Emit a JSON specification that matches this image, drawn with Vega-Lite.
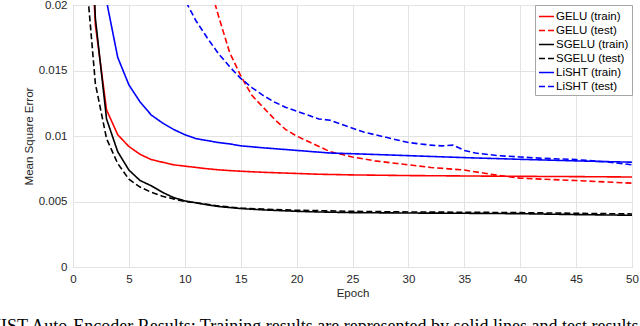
{
  "$schema": "https://vega.github.io/schema/vega-lite/v6.json",
  "autosize": {"type": "none"},
  "width": 559,
  "height": 262,
  "padding": {"left": 73, "top": 5, "right": 8, "bottom": 59},
  "background": "white",
  "config": {
    "view": {"stroke": "#a6a6a6", "strokeWidth": 1},
    "font": "Liberation Sans",
    "axis": {
      "labelFont": "Liberation Sans", "labelFontSize": 11.5, "labelColor": "#262626",
      "titleFont": "Liberation Sans", "titleFontSize": 11.5, "titleFontWeight": "normal", "titleColor": "#262626",
      "gridColor": "#e3e3e3", "gridWidth": 1, "domain": false, "ticks": false
    }
  },
  "title": {
    "text": "MNIST Auto-Encoder Results: Training results are represented by solid lines and test results by dashed lines.",
    "orient": "bottom", "anchor": "start", "frame": "group", "dx": -101, "offset": 19,
    "font": "Liberation Serif", "fontSize": 18, "fontWeight": "normal", "color": "#000"
  },
  "data": {"values": [
    {"s":"GELU (train)","e":1,"v":0.035},{"s":"GELU (train)","e":2,"v":0.0185},{"s":"GELU (train)","e":3,"v":0.0120},{"s":"GELU (train)","e":4,"v":0.0101},{"s":"GELU (train)","e":5,"v":0.0092},{"s":"GELU (train)","e":6,"v":0.0086},{"s":"GELU (train)","e":7,"v":0.0082},{"s":"GELU (train)","e":8,"v":0.0080},{"s":"GELU (train)","e":9,"v":0.0078},{"s":"GELU (train)","e":10,"v":0.0077},{"s":"GELU (train)","e":11,"v":0.0076},{"s":"GELU (train)","e":12,"v":0.0075},{"s":"GELU (train)","e":13,"v":0.00742},{"s":"GELU (train)","e":14,"v":0.00736},{"s":"GELU (train)","e":15,"v":0.00731},{"s":"GELU (train)","e":16,"v":0.00727},{"s":"GELU (train)","e":17,"v":0.00723},{"s":"GELU (train)","e":18,"v":0.0072},{"s":"GELU (train)","e":20,"v":0.00714},{"s":"GELU (train)","e":22,"v":0.00708},{"s":"GELU (train)","e":25,"v":0.00703},{"s":"GELU (train)","e":30,"v":0.00698},{"s":"GELU (train)","e":35,"v":0.00695},{"s":"GELU (train)","e":40,"v":0.00692},{"s":"GELU (train)","e":45,"v":0.0069},{"s":"GELU (train)","e":50,"v":0.00687},

    {"s":"GELU (test)","e":1,"v":0.09},{"s":"GELU (test)","e":5,"v":0.05},{"s":"GELU (test)","e":8,"v":0.035},{"s":"GELU (test)","e":10,"v":0.028},{"s":"GELU (test)","e":11,"v":0.0248},{"s":"GELU (test)","e":12,"v":0.0222},{"s":"GELU (test)","e":13,"v":0.0192},{"s":"GELU (test)","e":14,"v":0.0164},{"s":"GELU (test)","e":15,"v":0.0146},{"s":"GELU (test)","e":16,"v":0.0131},{"s":"GELU (test)","e":17,"v":0.0122},{"s":"GELU (test)","e":18,"v":0.0113},{"s":"GELU (test)","e":19,"v":0.0105},{"s":"GELU (test)","e":20,"v":0.0100},{"s":"GELU (test)","e":21,"v":0.0096},{"s":"GELU (test)","e":22,"v":0.0092},{"s":"GELU (test)","e":23,"v":0.0088},{"s":"GELU (test)","e":24,"v":0.0086},{"s":"GELU (test)","e":25,"v":0.0084},{"s":"GELU (test)","e":27,"v":0.0081},{"s":"GELU (test)","e":29,"v":0.0079},{"s":"GELU (test)","e":32,"v":0.0076},{"s":"GELU (test)","e":35,"v":0.0074},{"s":"GELU (test)","e":38,"v":0.0070},{"s":"GELU (test)","e":40,"v":0.00678},{"s":"GELU (test)","e":45,"v":0.0066},{"s":"GELU (test)","e":50,"v":0.0064},

    {"s":"SGELU (train)","e":1,"v":0.04},{"s":"SGELU (train)","e":2,"v":0.0190},{"s":"SGELU (train)","e":3,"v":0.0113},{"s":"SGELU (train)","e":4,"v":0.0088},{"s":"SGELU (train)","e":5,"v":0.0074},{"s":"SGELU (train)","e":6,"v":0.0066},{"s":"SGELU (train)","e":7,"v":0.0062},{"s":"SGELU (train)","e":8,"v":0.0057},{"s":"SGELU (train)","e":9,"v":0.0053},{"s":"SGELU (train)","e":10,"v":0.00505},{"s":"SGELU (train)","e":11,"v":0.0049},{"s":"SGELU (train)","e":12,"v":0.00475},{"s":"SGELU (train)","e":13,"v":0.00462},{"s":"SGELU (train)","e":15,"v":0.00446},{"s":"SGELU (train)","e":17,"v":0.00436},{"s":"SGELU (train)","e":20,"v":0.00425},{"s":"SGELU (train)","e":22,"v":0.0042},{"s":"SGELU (train)","e":25,"v":0.00415},{"s":"SGELU (train)","e":30,"v":0.00412},{"s":"SGELU (train)","e":35,"v":0.0041},{"s":"SGELU (train)","e":40,"v":0.00407},{"s":"SGELU (train)","e":45,"v":0.004},{"s":"SGELU (train)","e":50,"v":0.00395},

    {"s":"SGELU (test)","e":1,"v":0.024},{"s":"SGELU (test)","e":2,"v":0.0140},{"s":"SGELU (test)","e":3,"v":0.0098},{"s":"SGELU (test)","e":4,"v":0.0079},{"s":"SGELU (test)","e":5,"v":0.0067},{"s":"SGELU (test)","e":6,"v":0.0061},{"s":"SGELU (test)","e":7,"v":0.0057},{"s":"SGELU (test)","e":8,"v":0.0054},{"s":"SGELU (test)","e":9,"v":0.0052},{"s":"SGELU (test)","e":10,"v":0.0050},{"s":"SGELU (test)","e":11,"v":0.0049},{"s":"SGELU (test)","e":12,"v":0.00478},{"s":"SGELU (test)","e":13,"v":0.00466},{"s":"SGELU (test)","e":15,"v":0.0045},{"s":"SGELU (test)","e":17,"v":0.00442},{"s":"SGELU (test)","e":20,"v":0.00433},{"s":"SGELU (test)","e":22,"v":0.0043},{"s":"SGELU (test)","e":25,"v":0.00425},{"s":"SGELU (test)","e":30,"v":0.0042},{"s":"SGELU (test)","e":35,"v":0.00418},{"s":"SGELU (test)","e":40,"v":0.00415},{"s":"SGELU (test)","e":45,"v":0.0041},{"s":"SGELU (test)","e":50,"v":0.00405},

    {"s":"LiSHT (train)","e":1,"v":0.05},{"s":"LiSHT (train)","e":2,"v":0.03},{"s":"LiSHT (train)","e":3,"v":0.0203},{"s":"LiSHT (train)","e":4,"v":0.0160},{"s":"LiSHT (train)","e":5,"v":0.0139},{"s":"LiSHT (train)","e":6,"v":0.0126},{"s":"LiSHT (train)","e":7,"v":0.0116},{"s":"LiSHT (train)","e":8,"v":0.0110},{"s":"LiSHT (train)","e":9,"v":0.0105},{"s":"LiSHT (train)","e":10,"v":0.0101},{"s":"LiSHT (train)","e":11,"v":0.0098},{"s":"LiSHT (train)","e":12,"v":0.00965},{"s":"LiSHT (train)","e":13,"v":0.0095},{"s":"LiSHT (train)","e":14,"v":0.0094},{"s":"LiSHT (train)","e":15,"v":0.00925},{"s":"LiSHT (train)","e":17,"v":0.0091},{"s":"LiSHT (train)","e":20,"v":0.0089},{"s":"LiSHT (train)","e":23,"v":0.0087},{"s":"LiSHT (train)","e":26,"v":0.00862},{"s":"LiSHT (train)","e":30,"v":0.0085},{"s":"LiSHT (train)","e":35,"v":0.00835},{"s":"LiSHT (train)","e":40,"v":0.00822},{"s":"LiSHT (train)","e":45,"v":0.0081},{"s":"LiSHT (train)","e":50,"v":0.0080},

    {"s":"LiSHT (test)","e":1,"v":0.08},{"s":"LiSHT (test)","e":5,"v":0.04},{"s":"LiSHT (test)","e":8,"v":0.026},{"s":"LiSHT (test)","e":9,"v":0.0225},{"s":"LiSHT (test)","e":10,"v":0.0204},{"s":"LiSHT (test)","e":11,"v":0.0188},{"s":"LiSHT (test)","e":12,"v":0.0175},{"s":"LiSHT (test)","e":13,"v":0.0163},{"s":"LiSHT (test)","e":14,"v":0.0153},{"s":"LiSHT (test)","e":15,"v":0.0144},{"s":"LiSHT (test)","e":16,"v":0.0137},{"s":"LiSHT (test)","e":17,"v":0.0131},{"s":"LiSHT (test)","e":18,"v":0.0126},{"s":"LiSHT (test)","e":19,"v":0.0122},{"s":"LiSHT (test)","e":20,"v":0.0119},{"s":"LiSHT (test)","e":21,"v":0.0116},{"s":"LiSHT (test)","e":22,"v":0.0113},{"s":"LiSHT (test)","e":23,"v":0.0112},{"s":"LiSHT (test)","e":24,"v":0.0109},{"s":"LiSHT (test)","e":25,"v":0.0106},{"s":"LiSHT (test)","e":26,"v":0.0103},{"s":"LiSHT (test)","e":27,"v":0.0101},{"s":"LiSHT (test)","e":28,"v":0.0099},{"s":"LiSHT (test)","e":29,"v":0.0097},{"s":"LiSHT (test)","e":30,"v":0.0095},{"s":"LiSHT (test)","e":31,"v":0.0094},{"s":"LiSHT (test)","e":32,"v":0.0093},{"s":"LiSHT (test)","e":33,"v":0.00925},{"s":"LiSHT (test)","e":34,"v":0.0093},{"s":"LiSHT (test)","e":35,"v":0.0089},{"s":"LiSHT (test)","e":36,"v":0.0087},{"s":"LiSHT (test)","e":38,"v":0.0085},{"s":"LiSHT (test)","e":40,"v":0.0084},{"s":"LiSHT (test)","e":42,"v":0.0083},{"s":"LiSHT (test)","e":45,"v":0.0082},{"s":"LiSHT (test)","e":48,"v":0.0080},{"s":"LiSHT (test)","e":50,"v":0.0078}
  ]},
  "mark": {"type": "line", "clip": true, "strokeWidth": 1.6},
  "encoding": {
    "x": {"field": "e", "type": "quantitative", "title": "Epoch",
      "scale": {"domain": [0, 50], "nice": false},
      "axis": {"values": [0,5,10,15,20,25,30,35,40,45,50], "labelPadding": 6, "titlePadding": 3, "labelFlush": false}},
    "y": {"field": "v", "type": "quantitative", "title": "Mean Square Error",
      "scale": {"domain": [0, 0.02], "nice": false, "zero": true},
      "axis": {"values": [0, 0.005, 0.01, 0.015, 0.02], "format": "~g", "labelPadding": 6, "titlePadding": 4, "labelFlush": false}},
    "color": {"field": "s", "type": "nominal",
      "scale": {"domain": ["GELU (train)","GELU (test)","SGELU (train)","SGELU (test)","LiSHT (train)","LiSHT (test)"],
                "range": ["#ff0000","#ff0000","#000000","#000000","#0000ff","#0000ff"]},
      "legend": {"title": null, "orient": "top-right", "offset": 0, "fillColor": "white", "strokeColor": "#a6a6a6",
        "padding": 3, "labelFont": "Liberation Sans", "labelFontSize": 11.5, "labelColor": "#000", "labelOffset": 1,
        "rowPadding": -1.2, "symbolType": "stroke", "symbolSize": 225, "symbolStrokeWidth": 1.6}},
    "strokeDash": {"field": "s", "type": "nominal",
      "scale": {"domain": ["GELU (train)","GELU (test)","SGELU (train)","SGELU (test)","LiSHT (train)","LiSHT (test)"],
                "range": [[1,0],[6,3],[1,0],[6,3],[1,0],[6,3]]},
      "legend": {"title": null}},
    "order": {"field": "e", "type": "quantitative"}
  }
}
